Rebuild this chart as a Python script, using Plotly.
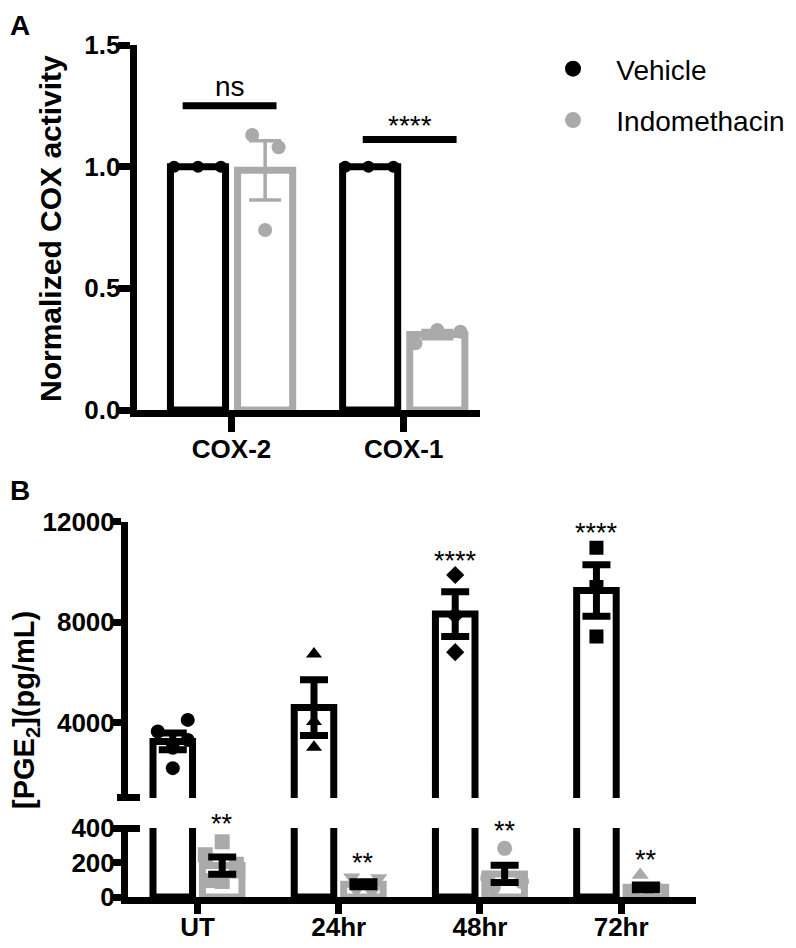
import plotly.graph_objects as go

# ---- panel A data: normalized COX activity ----
cox_groups = ["COX-2", "COX-1"]
vehicle_cox_mean = [1.0, 1.0]
vehicle_cox_sem = [0.0, 0.0]
indo_cox_mean = [0.985, 0.31]
indo_cox_sem = [0.122, 0.017]
vehicle_cox_pts = [[1.0, 1.0, 1.0], [1.0, 1.0, 1.0]]
indo_cox_pts = [[1.13, 0.74, 1.08], [0.274, 0.329, 0.322]]
sig_cox_text = ["ns", "****"]
sig_cox_line_y = [1.25, 1.112]
sig_cox_text_y = [1.33, 1.17]

# ---- panel B data: PGE2 (pg/mL) ----
time_groups = ["UT", "24hr", "48hr", "72hr"]
vehicle_pge_mean = [3250, 4600, 8320, 9260]
vehicle_pge_sem = [330, 1110, 890, 1030]
vehicle_pge_pts = [[3642, 4107, 3310, 2185, 3000],
                   [6735, 4040, 3020],
                   [9878, 8274, 6802],
                   [10965, 9400, 7423]]
indo_pge_mean = [182, 74, 134, 56]
indo_pge_sem = [50, 15, 50, 14]
indo_pge_pts = [[320, 245, 190, 150, 95, 90],
                [115, 110, 40, 30],
                [282, 110, 90, 55],
                [128, 45, 30, 20]]
vehicle_sig = ["", "", "****", "****"]
vehicle_sig_y = [None, None, 10450, 11560]
indo_sig = ["**", "**", "**", "**"]
indo_sig_y = [425, 195, 385, 215]

# ---- styles / positions (pixel positions are those of the reference image) ----
W, H = 796, 948
PAGE_OFF = 8            # browser body margin in front of the figure
BLACK = "#000000"
GRAY = "#aaaaaa"
FONT = "Liberation Sans, Arial, Helvetica, sans-serif"
A_OFF, A_BAR_W = 0.195, 0.32
B_OFF, B_BAR_W = 0.175, 0.28
A_VEH_JIT = [[-0.139, 0.0, 0.133], [-0.145, -0.01, 0.135]]
A_IND_JIT = [[-0.075, 0.0, 0.078], [-0.127, 0.0, 0.134]]
A_SIG_X = [[-0.284, 0.261], [0.762, 1.307]]
B_VEH_JIT = [[-0.106, 0.106, 0.106, 0.0, 0.0], [0, 0, 0], [0, 0, 0], [0, 0, 0]]
B_IND_JIT = [[0.0, -0.12, 0.1, 0.11, -0.1, 0.0],
             [-0.083, 0.109, -0.05, 0.06],
             [0.0, -0.12, 0.12, -0.08],
             [-0.04, 0.1, -0.1, 0.02]]
vehicle_symbols = ["circle", "triangle-up", "diamond", "square"]
indo_symbols = ["square", "triangle-down", "circle", "triangle-up"]
LOWER_TOP = 400
LOWER_PX_PER_UNIT = 69 / 400

FW, FH = W - PAGE_OFF, H - PAGE_OFF


def fx(p):
    return (p - PAGE_OFF) / FW


def fy(p):
    return 1 - (p - PAGE_OFF) / FH


def flat_points(groups, offset, jitter, symbols=None):
    xs, ys, syms = [], [], []
    for i, pts in enumerate(groups):
        for j, v in enumerate(pts):
            xs.append(i + offset + jitter[i][j])
            ys.append(v)
            if symbols:
                syms.append(symbols[i])
    return xs, ys, syms


fig = go.Figure()

# ---------------- panel A ----------------
ia = list(range(len(cox_groups)))
fig.add_trace(go.Bar(x=[i - A_OFF for i in ia], y=vehicle_cox_mean, width=A_BAR_W,
                     marker=dict(color="white", line=dict(color=BLACK, width=7)),
                     showlegend=False, xaxis="x", yaxis="y"))
fig.add_trace(go.Bar(x=[i + A_OFF for i in ia], y=indo_cox_mean, width=A_BAR_W,
                     marker=dict(color="white", line=dict(color=GRAY, width=7)),
                     showlegend=False, xaxis="x", yaxis="y"))
xs, ys, _ = flat_points(vehicle_cox_pts, -A_OFF, A_VEH_JIT)
fig.add_trace(go.Scatter(x=xs, y=ys, mode="markers", marker=dict(color=BLACK, size=12),
                         showlegend=False, xaxis="x", yaxis="y"))
xs, ys, _ = flat_points(indo_cox_pts, A_OFF, A_IND_JIT)
fig.add_trace(go.Scatter(x=xs, y=ys, mode="markers", marker=dict(color=GRAY, size=14),
                         showlegend=False, xaxis="x", yaxis="y"))
fig.add_trace(go.Scatter(x=[i + A_OFF for i in ia], y=indo_cox_mean, mode="markers",
                         marker=dict(size=1, color="rgba(0,0,0,0)"),
                         error_y=dict(type="data", array=indo_cox_sem, color=GRAY,
                                      thickness=3.5, width=16),
                         showlegend=False, xaxis="x", yaxis="y"))
for k in range(len(sig_cox_text)):
    fig.add_trace(go.Scatter(x=A_SIG_X[k], y=[sig_cox_line_y[k]] * 2, mode="lines",
                             line=dict(color=BLACK, width=7), showlegend=False,
                             xaxis="x", yaxis="y"))

# legend entries
fig.add_trace(go.Scatter(x=[None], y=[None], mode="markers", name="\u00a0\u00a0\u00a0Vehicle",
                         marker=dict(color=BLACK, size=16), legendgroup="v",
                         xaxis="x", yaxis="y"))
fig.add_trace(go.Scatter(x=[None], y=[None], mode="markers", name="\u00a0\u00a0\u00a0Indomethacin",
                         marker=dict(color=GRAY, size=16), legendgroup="i",
                         xaxis="x", yaxis="y"))

# ---------------- panel B (upper y2 / lower y3) ----------------
ib = list(range(len(time_groups)))
for xa, ya in (("x2", "y2"), ("x3", "y3")):
    fig.add_trace(go.Bar(x=[i - B_OFF for i in ib], y=vehicle_pge_mean, width=B_BAR_W,
                         marker=dict(color="white", line=dict(color=BLACK, width=7)),
                         showlegend=False, xaxis=xa, yaxis=ya))
    fig.add_trace(go.Bar(x=[i + B_OFF for i in ib], y=indo_pge_mean, width=B_BAR_W,
                         marker=dict(color="white", line=dict(color=GRAY, width=7)),
                         showlegend=False, xaxis=xa, yaxis=ya))
    xs, ys, sy = flat_points(vehicle_pge_pts, -B_OFF, B_VEH_JIT, vehicle_symbols)
    fig.add_trace(go.Scatter(x=xs, y=ys, mode="markers",
                             marker=dict(color=BLACK, size=14, symbol=sy),
                             showlegend=False, xaxis=xa, yaxis=ya))
    xs, ys, sy = flat_points(indo_pge_pts, B_OFF, B_IND_JIT, indo_symbols)
    fig.add_trace(go.Scatter(x=xs, y=ys, mode="markers",
                             marker=dict(color=GRAY, size=15, symbol=sy),
                             showlegend=False, xaxis=xa, yaxis=ya))
    for off, mean, sem in ((-B_OFF, vehicle_pge_mean, vehicle_pge_sem),
                           (B_OFF, indo_pge_mean, indo_pge_sem)):
        fig.add_trace(go.Scatter(x=[i + off for i in ib], y=mean, mode="markers",
                                 marker=dict(size=1, color="rgba(0,0,0,0)"),
                                 error_y=dict(type="data", array=sem, color=BLACK,
                                              thickness=7, width=14),
                                 showlegend=False, xaxis=xa, yaxis=ya))

# empty traces so the axis-break overlay axes get drawn
fig.add_trace(go.Scatter(x=[], y=[], showlegend=False, xaxis="x2", yaxis="y4"))
fig.add_trace(go.Scatter(x=[], y=[], showlegend=False, xaxis="x3", yaxis="y5"))

# ---------------- annotations ----------------
ann = []
for k, t in enumerate(sig_cox_text):
    ann.append(dict(x=sum(A_SIG_X[k]) / 2, y=sig_cox_text_y[k], xref="x", yref="y",
                    text=t, showarrow=False, font=dict(size=28, color=BLACK, family=FONT)))
for i in ib:
    if vehicle_sig[i]:
        ann.append(dict(x=i - B_OFF, y=vehicle_sig_y[i], xref="x2", yref="y2",
                        text=vehicle_sig[i], showarrow=False,
                        font=dict(size=27, color=BLACK, family=FONT)))
    # labels above the lower segment's top are anchored at its top and shifted up
    y_in = min(indo_sig_y[i], LOWER_TOP)
    ann.append(dict(x=i + B_OFF, y=y_in, xref="x3", yref="y3",
                    yshift=(indo_sig_y[i] - y_in) * LOWER_PX_PER_UNIT,
                    text=indo_sig[i], showarrow=False,
                    font=dict(size=27, color=BLACK, family=FONT)))
paper_txt = dict(xref="paper", yref="paper", showarrow=False, xanchor="center")
ann.append(dict(x=fx(20), y=fy(8), yanchor="top", text="<b>A</b>",
                font=dict(size=28, color=BLACK, family=FONT), **paper_txt))
ann.append(dict(x=fx(20), y=fy(490), yanchor="middle", text="<b>B</b>",
                font=dict(size=28, color=BLACK, family=FONT), **paper_txt))
ann.append(dict(x=fx(50), y=fy(229), yanchor="middle", textangle=-90,
                text="<b>Normalized COX activity</b>",
                font=dict(size=30, color=BLACK, family=FONT), **paper_txt))
ann.append(dict(x=fx(26), y=fy(710), yanchor="middle", textangle=-90,
                text="<b>[PGE<sub>2</sub>](pg/mL)</b>",
                font=dict(size=29, color=BLACK, family=FONT), **paper_txt))

tickfont = dict(size=26, color=BLACK, family=FONT, weight="bold")
common_line = dict(showline=True, linewidth=7, linecolor=BLACK, showgrid=False,
                   zeroline=False, ticks="outside", tickwidth=7, tickcolor=BLACK,
                   tickfont=tickfont, automargin=False)
# free-standing axes that only draw the long axis-break ticks across the y axes
break_axis = dict(anchor="free", position=fx(140), side="left", showline=False,
                  showgrid=False, zeroline=False, ticks="outside", ticklen=23,
                  tickwidth=7, tickcolor=BLACK, showticklabels=False, automargin=False)

fig.update_layout(
    width=FW, height=FH, margin=dict(l=0, r=0, t=0, b=0, autoexpand=False),
    paper_bgcolor="white", plot_bgcolor="white", barmode="overlay",
    font=dict(family=FONT, color=BLACK),
    annotations=ann,
    legend=dict(x=fx(553), y=fy(44), xanchor="left", yanchor="top",
                font=dict(size=28, color=BLACK, family=FONT),
                tracegroupgap=12, traceorder="grouped", bgcolor="rgba(0,0,0,0)"),
    xaxis=dict(domain=[fx(136.7), fx(480)], range=[-0.551, 1.443], anchor="y",
               tickvals=ia, ticktext=cox_groups, ticklen=15,
               ticklabelstandoff=-5, **common_line),
    yaxis=dict(domain=[fy(410), fy(45)], range=[0, 1.5], anchor="x",
               tickvals=[0, 0.5, 1.0, 1.5], ticktext=["0.0", "0.5", "1.0", "1.5"],
               ticklen=12, ticklabelstandoff=-8, **common_line),
    xaxis2=dict(domain=[fx(128), fx(696)], range=[-0.492, 3.53], anchor="y2",
                visible=False, matches="x3"),
    yaxis2=dict(domain=[fy(797.9), fy(521.7)], range=[1000, 12000], anchor="x2",
                tickvals=[4000, 8000, 12000], ticktext=["4000", "8000", "12000"],
                ticklen=10, ticklabelstandoff=-9, **common_line),
    xaxis3=dict(domain=[fx(128), fx(696)], range=[-0.492, 3.53], anchor="y3",
                tickvals=ib, ticktext=time_groups, ticklen=10,
                ticklabelstandoff=-9, **common_line),
    yaxis3=dict(domain=[fy(897), fy(828)], range=[0, 400], anchor="x3",
                tickvals=[0, 200, 400], ticktext=["0", "200", "400"],
                ticklen=10, ticklabelstandoff=-9, **common_line),
    yaxis4=dict(overlaying="y2", range=[1000, 12000], tickvals=[1000], **break_axis),
    yaxis5=dict(overlaying="y3", range=[0, 400], tickvals=[400], **break_axis),
)

fig.write_html("out.html")
